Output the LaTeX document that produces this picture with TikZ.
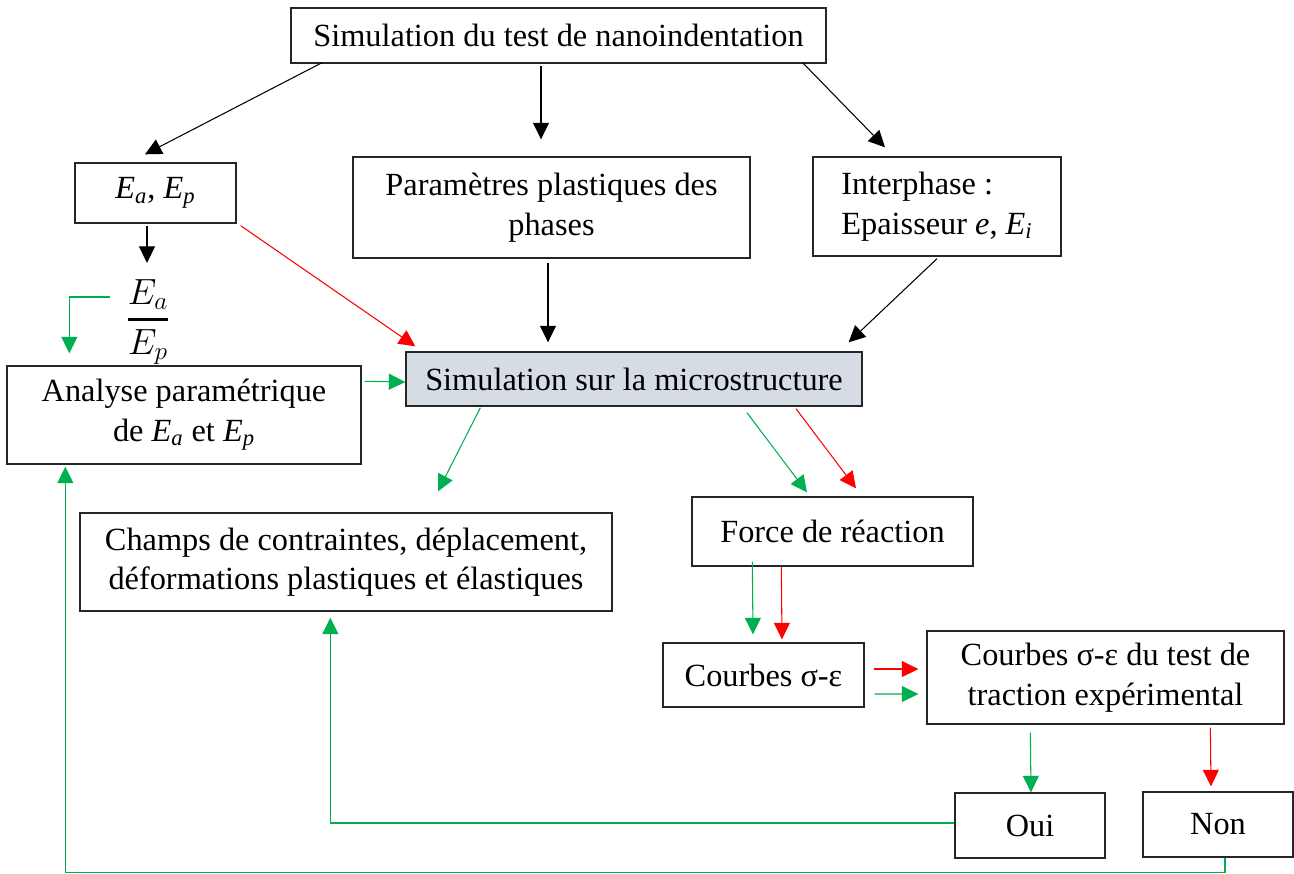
\documentclass[tikz,border=0pt]{standalone}
\usepackage{fontspec}
\setmainfont{Liberation Serif}
\usepackage{amsmath}
\usepackage{xcolor}
\definecolor{cLine}{HTML}{262626}
\definecolor{cOK}{HTML}{00B050}
\definecolor{cBad}{HTML}{FF0000}
\definecolor{cSim}{HTML}{D6DCE4}
\usepackage{tikz}
\usetikzlibrary{arrows.meta,calc}
\newcommand{\Eidx}[1]{\textit{E}\textsubscript{\textit{#1}}}
\tikzset{
  node-box/.style={draw=cLine,line width=0.8pt,inner sep=0pt,align=center},
  node-sim/.style={node-box,fill=cSim},
  arrow/.style={-{Triangle[length=3.3mm,width=3.2mm]},line width=0.6pt,draw=black},
  arrow-ok/.style={-{Triangle[length=3.3mm,width=3.2mm]},line width=0.6pt,draw=cOK},
  arrow-bad/.style={-{Triangle[length=3.3mm,width=3.2mm]},line width=0.6pt,draw=cBad},
}

\begin{document}
\begin{tikzpicture}[x=0.02cm,y=-0.02cm,font=\fontsize{18.4}{22.5}\selectfont]
  \useasboundingbox (0,0) rectangle (1294,873);

  % boites
  \node[node-box,minimum width=10.70cm,minimum height=1.10cm] (nano) at (558.5,35.5) {Simulation du test de nanoindentation};
  \node[node-box,minimum width=3.22cm,minimum height=1.20cm] (ea) at (155.5,193) {\Eidx{a}, \Eidx{p}};
  \node[node-box,minimum width=7.94cm,minimum height=2.02cm] (param) at (551.5,207.5) {Paramètres plastiques des\\phases};
  \node[node-box,align=left,minimum width=4.96cm,minimum height=1.98cm] (inter) at (937,206.5) {Interphase :\\Epaisseur \textit{e}, \Eidx{i}};
  \node[inner sep=0pt,font=\fontsize{21}{25}\selectfont] (frac) at (148,322) {$\genfrac{}{}{1.6pt}{0}{E_{a}}{E_{p}}$};
  \node[node-box,minimum width=7.08cm,minimum height=1.96cm] (analyse) at (184,415) {Analyse paramétrique\\de \Eidx{a} et \Eidx{p}};
  \node[node-sim,minimum width=9.12cm,minimum height=1.08cm] (sim) at (634,379) {Simulation sur la microstructure};
  \node[node-box,minimum width=10.64cm,minimum height=1.96cm] (champs) at (346,562) {Champs de contraintes, déplacement,\\déformations plastiques et élastiques};
  \node[node-box,minimum width=5.62cm,minimum height=1.38cm] (force) at (832.5,531.5) {Force de réaction};
  \node[node-box,minimum width=4.02cm,minimum height=1.28cm] (courbes) at (763.5,675) {Courbes σ-ε};
  \node[node-box,minimum width=7.14cm,minimum height=1.86cm] (traction) at (1105.5,677.5) {Courbes σ-ε du test de\\traction expérimental};
  \node[node-box,minimum width=3.00cm,minimum height=1.30cm] (oui) at (1030,825.5) {Oui};
  \node[node-box,minimum width=3.00cm,minimum height=1.30cm] (non) at (1218,824.5) {Non};

  % fleches noires
  \draw[arrow] ($(nano.south)+(-236.5,-1)$) -- ($(ea.north)+(-10.5,-8)$);
  \draw[arrow] ($(nano.south)+(-17.5,2)$) -- ($(param.north)+(-10.5,-17)$);
  \draw[arrow] ($(nano.south east)+(-24,-1)$) -- ($(inter.north)+(-52,-9)$);
  \draw[arrow] ($(ea.south)+(-8.5,2)$) -- ($(frac.north)+(-1,-16)$);
  \draw[arrow] ($(param.south)+(-3.5,4)$) -- ($(sim.north)+(-86,-9)$);
  \draw[arrow] ($(inter.south)+(0,2)$) -- ($(sim.north east)+(-14,-9)$);

  % fleches vertes
  \draw[arrow-ok] ($(frac.west)+(-15,-25)$) -| ($(analyse.north west)+(63,-12)$);
  \draw[arrow-ok] ($(analyse.north east)+(3,16)$) -- ($(sim.west)+(0,3)$);
  \draw[arrow-ok] ($(sim.south west)+(75,1)$) -- ($(champs.north)+(92,-21)$);
  \draw[arrow-ok] ($(sim.south)+(113,6)$) -- ($(force.north)+(-25.5,-4)$);
  \draw[arrow-ok] ($(force.south west)+(61,-5)$) -- ($(courbes.north)+(-10.5,-8)$);
  \draw[arrow-ok] ($(courbes.east)+(10,19)$) -- ($(traction.west)+(-8,16.5)$);
  \draw[arrow-ok] ($(traction.south west)+(104,8)$) -- ($(oui.north)+(1,0)$);
  \draw[arrow-ok] ($(oui.west)+(0,-2.5)$) -| ($(champs.south west)+(251,6)$);
  \draw[arrow-ok] ($(non.south)+(7,0)$) -- ++(0,15) -| ($(analyse.south west)+(59,2)$);

  % fleches rouges
  \draw[arrow-bad] ($(ea.south east)+(4,2)$) -- ($(sim.north west)+(10,-5)$);
  \draw[arrow-bad] ($(sim.south)+(162,2)$) -- ($(force.north)+(23.5,-8)$);
  \draw[arrow-bad] ($(force.south west)+(90,0)$) -- ($(courbes.north)+(18.5,-3)$);
  \draw[arrow-bad] ($(courbes.east)+(9,-6)$) -- ($(traction.west)+(-8,-8.5)$);
  \draw[arrow-bad] ($(traction.south west)+(284,3)$) -- ($(non.north)+(-7,-5)$);
\end{tikzpicture}
\end{document}
